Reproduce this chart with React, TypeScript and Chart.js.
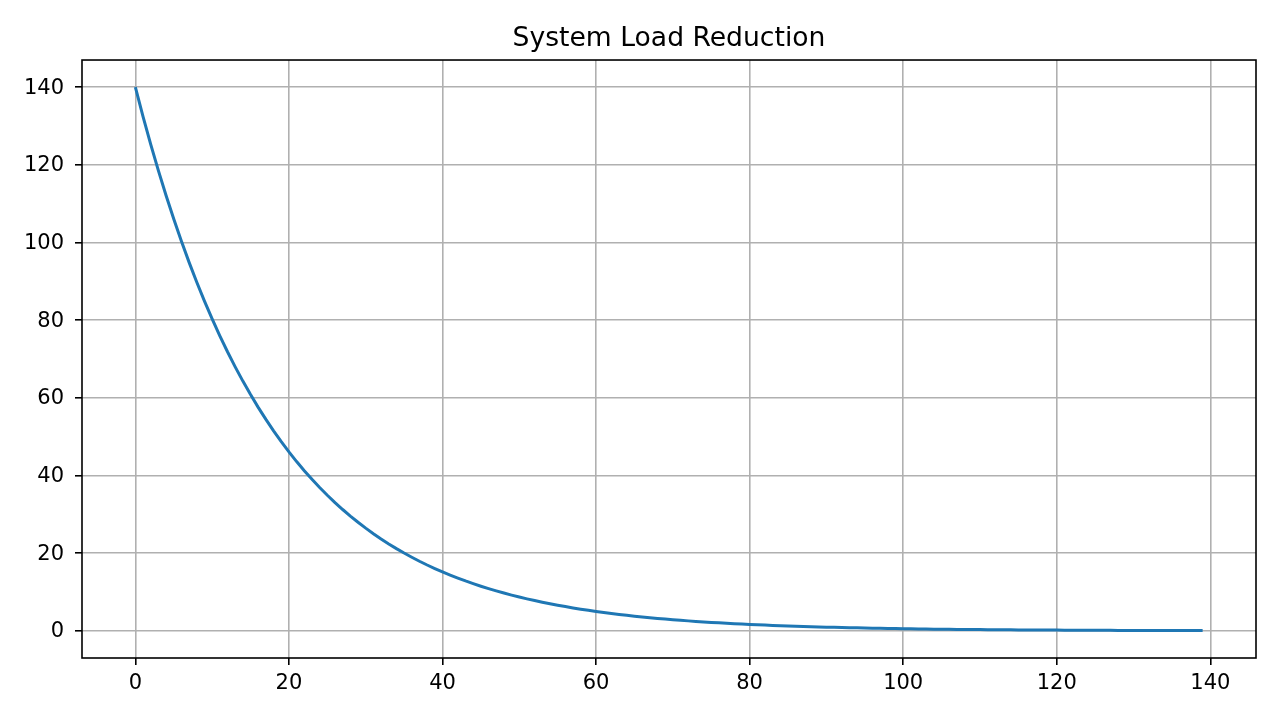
import { Chart, registerables } from 'chart.js';
import { useEffect, useRef } from 'react';

Chart.register(...registerables);

// System load per step
const loadValues: number[] = [
    140.0, 132.43, 125.27, 118.5, 112.1, 106.04, 100.31, 94.89, 89.76, 84.91,
    80.32, 75.98, 71.87, 67.99, 64.31, 60.84, 57.55, 54.44, 51.5, 48.72,
    46.08, 43.59, 41.24, 39.01, 36.9, 34.91, 33.02, 31.24, 29.55, 27.95,
    26.44, 25.01, 23.66, 22.38, 21.17, 20.03, 18.95, 17.92, 16.95, 16.04,
    15.17, 14.35, 13.58, 12.84, 12.15, 11.49, 10.87, 10.28, 9.73, 9.2,
    8.7, 8.23, 7.79, 7.37, 6.97, 6.59, 6.24, 5.9, 5.58, 5.28,
    4.99, 4.72, 4.47, 4.23, 4.0, 3.78, 3.58, 3.38, 3.2, 3.03,
    2.86, 2.71, 2.56, 2.43, 2.29, 2.17, 2.05, 1.94, 1.84, 1.74,
    1.64, 1.56, 1.47, 1.39, 1.32, 1.25, 1.18, 1.11, 1.05, 1.0,
    0.94, 0.89, 0.84, 0.8, 0.76, 0.72, 0.68, 0.64, 0.61, 0.57,
    0.54, 0.51, 0.49, 0.46, 0.43, 0.41, 0.39, 0.37, 0.35, 0.33,
    0.31, 0.29, 0.28, 0.26, 0.25, 0.23, 0.22, 0.21, 0.2, 0.19,
    0.18, 0.17, 0.16, 0.15, 0.14, 0.13, 0.13, 0.12, 0.11, 0.11,
    0.1, 0.09, 0.09, 0.08, 0.08, 0.08, 0.07, 0.07, 0.06, 0.06,
];

const xTicks: number[] = [0, 20, 40, 60, 80, 100, 120, 140];
const yTicks: number[] = [0, 20, 40, 60, 80, 100, 120, 140];

const chartTitle = 'System Load Reduction';

const FONT = "'DejaVu Sans', sans-serif";

// moldura preta em volta da área do gráfico (como no matplotlib)
const framePlugin = {
    id: 'frame',
    afterDatasetsDraw(chart: Chart) {
        const { ctx, chartArea } = chart;
        ctx.save();
        ctx.strokeStyle = '#000000';
        ctx.lineWidth = 1.6;
        ctx.strokeRect(chartArea.left, chartArea.top, chartArea.right - chartArea.left, chartArea.bottom - chartArea.top);
        ctx.restore();
    },
};

const App: React.FC = () => {
    const chartRef = useRef<HTMLCanvasElement | null>(null);

    useEffect(() => {
        if (!chartRef.current) {
            return;
        }

        const chart = new Chart(chartRef.current, {
            type: 'line',
            data: {
                datasets: [
                    {
                        data: loadValues.map((v, i) => ({ x: i, y: v })),
                        borderColor: '#1f77b4',
                        borderWidth: 3,
                        pointRadius: 0,
                        tension: 0,
                        fill: false,
                    },
                ],
            },
            options: {
                animation: false,
                responsive: false,
                devicePixelRatio: 1,
                layout: { padding: { left: 0, right: 24, top: 0, bottom: 0 } },
                plugins: {
                    legend: { display: false },
                    tooltip: { enabled: false },
                    title: {
                        display: true,
                        fullSize: false,
                        text: chartTitle,
                        color: '#000000',
                        font: { family: FONT, size: 26.6, weight: 'normal' },
                        padding: { top: 23, bottom: 5.1 },
                    },
                },
                scales: {
                    x: {
                        type: 'linear',
                        min: -6.95,
                        max: 145.95,
                        afterBuildTicks: (scale) => {
                            scale.ticks = xTicks.map((v) => ({ value: v }));
                        },
                        afterFit: (scale) => {
                            scale.height = 62;
                        },
                        grid: {
                            color: '#b0b0b0',
                            lineWidth: 1.6,
                            tickColor: '#000000',
                            tickWidth: 1.6,
                            tickLength: 7,
                        },
                        border: { display: false },
                        ticks: {
                            color: '#000000',
                            font: { family: FONT, size: 21 },
                            padding: 6,
                            maxRotation: 0,
                        },
                    },
                    y: {
                        type: 'linear',
                        min: -7,
                        max: 147,
                        afterBuildTicks: (scale) => {
                            scale.ticks = yTicks.map((v) => ({ value: v }));
                        },
                        afterFit: (scale) => {
                            scale.width = 82;
                        },
                        grid: {
                            color: '#b0b0b0',
                            lineWidth: 1.6,
                            tickColor: '#000000',
                            tickWidth: 1.6,
                            tickLength: 7,
                        },
                        border: { display: false },
                        ticks: {
                            color: '#000000',
                            font: { family: FONT, size: 21 },
                            padding: 11,
                            labelOffset: 1,
                        },
                    },
                },
            },
            plugins: [framePlugin],
        });

        return () => {
            chart.destroy();
        };
    }, []);

    return (
        <div style={{ position: 'fixed', left: 0, top: 0, width: 1280, height: 720, background: '#ffffff' }}>
            <canvas ref={chartRef} width={1280} height={720} />
        </div>
    );
};

export default App;
